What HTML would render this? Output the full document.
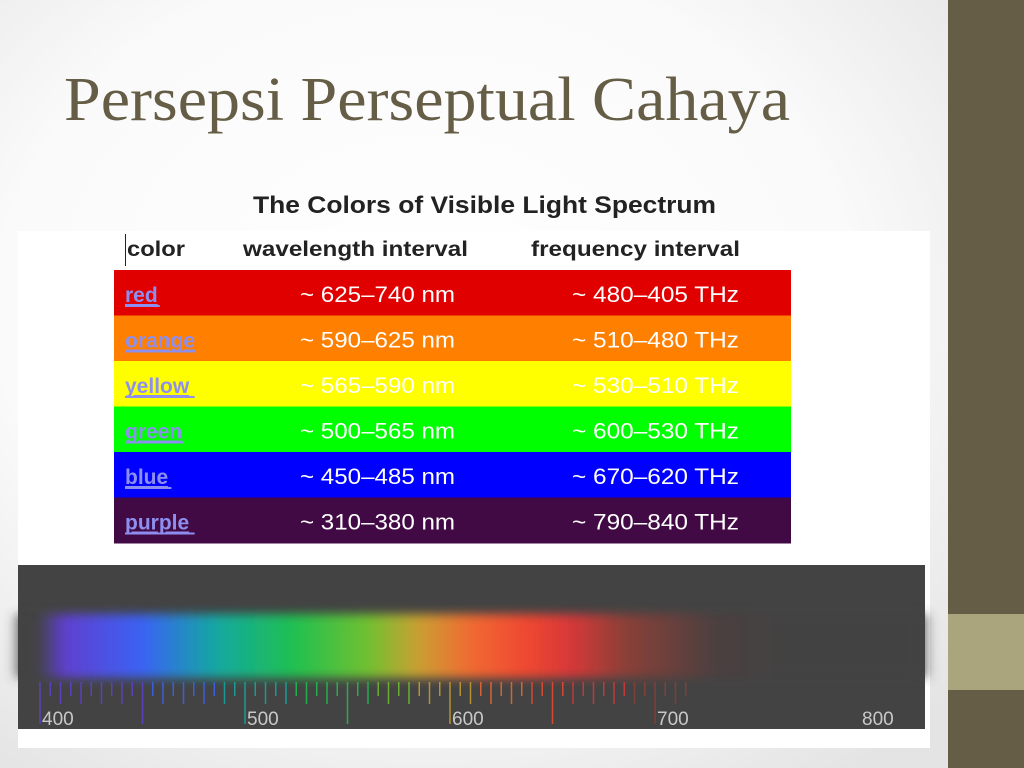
<!DOCTYPE html>
<html><head><meta charset="utf-8"><style>
html,body{margin:0;padding:0;width:1024px;height:768px;overflow:hidden}
</style></head><body>
<svg id="slide" width="1024" height="768" viewBox="0 0 1024 768" xmlns="http://www.w3.org/2000/svg">
<defs>
<radialGradient id="bg" cx="0.45" cy="0.4" r="0.75">
<stop offset="0" stop-color="#ffffff"/><stop offset="0.6" stop-color="#fafafa"/><stop offset="1" stop-color="#e4e4e4"/>
</radialGradient>
<linearGradient id="spec" x1="0" x2="1" y1="0" y2="0" gradientUnits="userSpaceOnUse" id2="" >
</linearGradient>
<filter id="blur" x="-10%" y="-50%" width="120%" height="200%"><feGaussianBlur stdDeviation="7 5"/></filter>
</defs>
<rect width="948" height="768" fill="url(#bg)"/>
<rect x="948" y="0" width="76" height="614" fill="#655d45"/>
<rect x="948" y="614" width="76" height="76" fill="#aaa57d"/>
<rect x="948" y="690" width="76" height="78" fill="#655d45"/>
<text x="64" y="120" font-family="Liberation Serif, serif" font-size="62" fill="#655d45" textLength="726" lengthAdjust="spacingAndGlyphs">Persepsi Perseptual Cahaya</text>
<text x="253" y="213" font-family="Liberation Sans, sans-serif" font-weight="bold" font-size="24" fill="#222" textLength="463" lengthAdjust="spacingAndGlyphs">The Colors of Visible Light Spectrum</text>
<rect x="18" y="231" width="912" height="517" fill="#ffffff"/>
<line x1="125.5" y1="234" x2="125.5" y2="266" stroke="#222" stroke-width="1"/>
<g font-family="Liberation Sans, sans-serif" font-weight="bold" font-size="21" fill="#222">
<text x="127" y="256" textLength="58" lengthAdjust="spacingAndGlyphs">color</text>
<text x="243" y="256" textLength="225" lengthAdjust="spacingAndGlyphs">wavelength interval</text>
<text x="531" y="256" textLength="209" lengthAdjust="spacingAndGlyphs">frequency interval</text>
</g>
<g id="table"></g>
<rect x="18" y="565" width="907" height="164" fill="#434343"/>
<g id="band" filter="url(#blur)"></g>
<g id="ticks"></g>
<g id="labels"></g>
</svg>
<script>
const colorNames = ['red','orange','yellow','green','blue','purple'];
const rowFills = ['#e10000','#ff7f00','#ffff00','#00ff00','#0000ff','#420a45'];
const wavelengths = ['~ 625–740 nm','~ 590–625 nm','~ 565–590 nm','~ 500–565 nm','~ 450–485 nm','~ 310–380 nm'];
const frequencies = ['~ 480–405 THz','~ 510–480 THz','~ 530–510 THz','~ 600–530 THz','~ 670–620 THz','~ 790–840 THz'];
const specNm = [400,412,450,486,524,560,584,610,635,658,686,731,760];
const specColors = ['#434343','#6040d0','#3a62f4','#13a8a0','#20c050','#70c030','#c8a030','#f06a30','#f04a30','#d83838','#884038','#4a4040','#434343'];
const tickLabels = [400,500,600,700,800];
const NS='http://www.w3.org/2000/svg';
const svg=document.getElementById('slide');
function mk(t,a,p){const e=document.createElementNS(NS,t);for(const k in a)e.setAttribute(k,a[k]);p.appendChild(e);return e;}
const x=nm=>40+(nm-400)*2.05;
// table
const tbl=document.getElementById('table');
const top0=270,rh=45.5;
colorNames.forEach((c,i)=>{
  const y=top0+i*rh;
  const r=mk('rect',{x:114,y:y,width:677,height:rh+0.5,fill:rowFills[i]},tbl);
  
  
  const lk=mk('text',{x:125,y:y+32,'font-family':'Liberation Sans, sans-serif','font-weight':'bold','font-size':'21',fill:'#8d8ff0','text-decoration':'underline'},tbl);
  lk.textContent=c;
  
  
  const ln=mk('rect',{x:125,y:y+35,width:c.length*11.6,height:2,fill:'#8d8ff0'},tbl);
  
  
  const w=mk('text',{x:300,y:y+32,'font-family':'Liberation Sans, sans-serif','font-size':'22',fill:'#fff',textLength:155,lengthAdjust:'spacingAndGlyphs'},tbl);
  w.textContent=wavelengths[i];
  
  
  const f=mk('text',{x:572,y:y+32,'font-family':'Liberation Sans, sans-serif','font-size':'22',fill:'#fff',textLength:167,lengthAdjust:'spacingAndGlyphs'},tbl);
  f.textContent=frequencies[i];
  
  
});
// spectrum gradient
const grad=document.getElementById('spec');
grad.setAttribute('x1',x(specNm[0]));grad.setAttribute('x2',x(specNm[specNm.length-1]));
const span=specNm[specNm.length-1]-specNm[0];
specNm.forEach((n,i)=>mk('stop',{offset:(n-specNm[0])/span,'stop-color':specColors[i]},grad));
const band=document.getElementById('band');
const br=mk('rect',{x:18,y:614,width:907,height:64,fill:'url(#spec)'},band);


function colorAt(nm){for(let i=0;i<specNm.length-1;i++){if(nm<=specNm[i+1])return specColors[i===0?1:i];}return specColors[specColors.length-2];}
const tg=document.getElementById('ticks');
for(let nm=400;nm<=715;nm+=5){
  const len=nm%50===0?42:(nm%10===0?22:14);
  const t=mk('line',{x1:x(nm),x2:x(nm),y1:682,y2:682+len,stroke:colorAt(nm),'stroke-width':1.5,opacity:0.85},tg);
  
  
}
const lg=document.getElementById('labels');
tickLabels.forEach(v=>{
  const t=mk('text',{x:x(v)+2,y:725,'font-family':'Liberation Sans Narrow, Liberation Sans, sans-serif','font-size':'19',fill:'#c8c8c8'},lg);
  t.textContent=v;
  
  
});
</script>
</body></html>
